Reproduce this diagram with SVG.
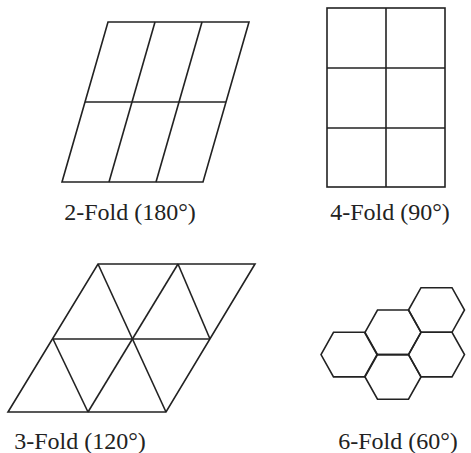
<svg xmlns="http://www.w3.org/2000/svg" width="471" height="453" viewBox="0 0 471 453">
<style>
.s{fill:none;stroke:#222;stroke-width:1.6;stroke-linejoin:miter}
.t{font-family:"Liberation Serif","Times New Roman",Times,serif;font-size:24px;fill:#222;text-anchor:middle}
</style>
<defs>
<polygon id="hex" points="-28,0 -15.5,-22.3 15.5,-22.3 28,0 15.5,22.3 -15.5,22.3"/>
</defs>
<rect width="471" height="453" fill="#fff"/>
<g id="twofold">
<polygon class="s" points="108,22 249,22 203,182 62,182"/>
<line class="s" x1="85" y1="102" x2="226" y2="102"/>
<line class="s" x1="155" y1="22" x2="109" y2="182"/>
<line class="s" x1="202" y1="22" x2="156" y2="182"/>
<text class="t" x="130" y="220">2-Fold (180°)</text>
</g>
<g id="fourfold">
<rect class="s" x="327" y="8" width="118" height="179"/>
<line class="s" x1="386" y1="8" x2="386" y2="187"/>
<line class="s" x1="327" y1="68" x2="445" y2="68"/>
<line class="s" x1="327" y1="128" x2="445" y2="128"/>
<text class="t" x="390" y="220">4-Fold (90°)</text>
</g>
<g id="threefold">
<polygon class="s" points="98,264 255,264 166,412 8,412"/>
<line class="s" x1="53" y1="339" x2="210" y2="339"/>
<line class="s" x1="98" y1="264" x2="166" y2="412"/>
<line class="s" x1="178" y1="264" x2="210" y2="339"/>
<line class="s" x1="53" y1="339" x2="88" y2="412"/>
<line class="s" x1="178" y1="264" x2="88" y2="412"/>
<text class="t" x="80" y="449">3-Fold (120°)</text>
</g>
<g id="sixfold">
<use href="#hex" class="s" x="436.5" y="310"/>
<use href="#hex" class="s" x="393" y="332.3"/>
<use href="#hex" class="s" x="349" y="354.6"/>
<use href="#hex" class="s" x="436.5" y="354.6"/>
<use href="#hex" class="s" x="393" y="376.9"/>
<text class="t" x="398" y="449">6-Fold (60°)</text>
</g>
</svg>
